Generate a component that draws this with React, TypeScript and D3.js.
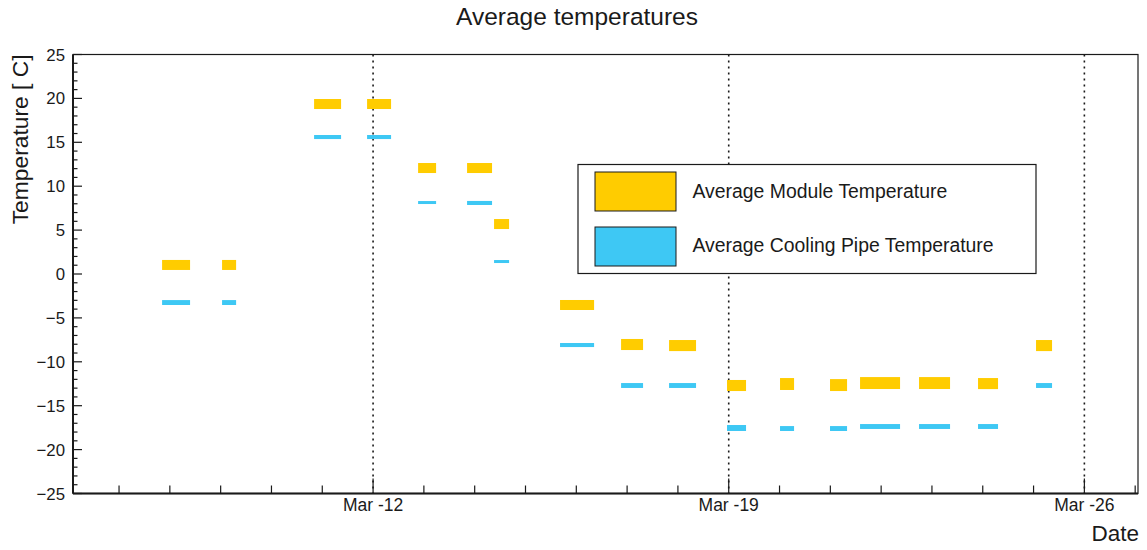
import React from "react";
import * as d3 from "d3";

const periodStart = [
  "2017-03-07T20:20", "2017-03-09T00:40", "2017-03-10T20:08", "2017-03-11T21:10",
  "2017-03-12T21:16", "2017-03-13T20:24", "2017-03-14T09:09", "2017-03-15T16:19",
  "2017-03-16T21:09", "2017-03-17T19:49", "2017-03-18T23:12", "2017-03-20T00:14",
  "2017-03-20T23:51", "2017-03-21T14:02", "2017-03-22T17:54", "2017-03-23T21:46",
  "2017-03-25T01:10",
];
const periodEnd = [
  "2017-03-08T09:33", "2017-03-09T07:18", "2017-03-11T08:53", "2017-03-12T08:30",
  "2017-03-13T05:46", "2017-03-14T08:12", "2017-03-14T16:15", "2017-03-16T08:24",
  "2017-03-17T07:32", "2017-03-18T08:34", "2017-03-19T08:11", "2017-03-20T06:52",
  "2017-03-21T07:54", "2017-03-22T08:56", "2017-03-23T08:33", "2017-03-24T07:13",
  "2017-03-25T08:44",
];
const moduleTemp = [1.03, 1.03, 19.36, 19.36, 12.07, 12.07, 5.69, -3.53, -8.03, -8.15, -12.7, -12.53, -12.65, -12.42, -12.42, -12.48, -8.15];
const moduleErr = [0.57, 0.57, 0.57, 0.57, 0.57, 0.57, 0.57, 0.57, 0.63, 0.63, 0.63, 0.68, 0.68, 0.68, 0.68, 0.63, 0.63];
const pipeTemp = [-3.25, -3.25, 15.6, 15.6, 8.14, 8.09, 1.42, -8.09, -12.7, -12.7, -17.54, -17.6, -17.6, -17.37, -17.37, -17.37, -12.7];
const pipeErr = [0.28, 0.28, 0.23, 0.23, 0.17, 0.23, 0.17, 0.23, 0.28, 0.28, 0.34, 0.28, 0.28, 0.28, 0.28, 0.28, 0.28];

const xDomain = ["2017-03-06T02:15", "2017-03-27T01:20"];
const majorDates = ["2017-03-12T00:00", "2017-03-19T00:00", "2017-03-26T00:00"];
const yTicks = [-25, -20, -15, -10, -5, 0, 5, 10, 15, 20, 25];
const legendLabels = ["Average Module Temperature", "Average Cooling Pipe Temperature"];

const MODULE_COLOR = "#ffcc00";
const PIPE_COLOR = "#3ec8f4";
const FONT = "'Liberation Sans', Arial, Helvetica, sans-serif";
const INK = "#1a1a1a";

const parse = (s: string) => new Date(s + ":00Z");

export default function App() {
  const W = 1147, H = 550;
  const left = 73, right = 1138, top = 54.5, bottom = 493.5;
  const x = d3.scaleUtc().domain(xDomain.map(parse)).range([left, right]);
  const y = d3.scaleLinear().domain([-25, 25]).range([bottom, top]);
  const fmt = d3.utcFormat("%b -%d");
  const yFmt = d3.format("d");

  const dayTicks = x.ticks(d3.utcDay.every(1)!);
  const majors = majorDates.map(parse);
  const isMajor = (d: Date) => majors.some((m) => +m === +d);
  const minorY = d3.range(-25, 25.01, 1);

  const boxes = (vals: number[], errs: number[], color: string, key: string) =>
    vals.map((v, i) => {
      const x0 = x(parse(periodStart[i]));
      const x1 = x(parse(periodEnd[i]));
      const y0 = y(v + errs[i]);
      const y1 = y(v - errs[i]);
      return <rect key={key + i} x={x0} y={y0} width={x1 - x0} height={y1 - y0} fill={color} />;
    });

  return (
    <svg width={W} height={H} style={{ position: "absolute", left: 0, top: 0, background: "#fff" }} fontFamily={FONT}>
      <rect x={0} y={0} width={W} height={H} fill="#fff" />
      <text x={577} y={25} textAnchor="middle" fontSize={24.5} fill={INK}>Average temperatures</text>

      {/* grid lines */}
      {majors.map((m, i) => (
        <line key={"g" + i} x1={x(m)} x2={x(m)} y1={top} y2={bottom} stroke={INK} strokeWidth={1.6} strokeDasharray="2,4" />
      ))}

      {boxes(moduleTemp, moduleErr, MODULE_COLOR, "m")}
      {boxes(pipeTemp, pipeErr, PIPE_COLOR, "p")}

      {/* frame */}
      <rect x={left} y={top} width={right - left} height={bottom - top} fill="none" stroke={INK} strokeWidth={1.2} />
      <line x1={left} x2={right} y1={bottom} y2={bottom} stroke={INK} strokeWidth={2} />
      <line x1={left} x2={left} y1={top} y2={bottom} stroke={INK} strokeWidth={2} />

      {/* x ticks */}
      {dayTicks.map((d, i) => (
        <line key={"xt" + i} x1={x(d)} x2={x(d)} y1={bottom} y2={bottom - (isMajor(d) ? 15 : 8)} stroke={INK} strokeWidth={1.2} />
      ))}
      {majors.map((m, i) => (
        <text key={"xl" + i} x={x(m)} y={511} textAnchor="middle" fontSize={17.5} fill={INK}>{fmt(m)}</text>
      ))}
      <text x={1139} y={541} textAnchor="end" fontSize={22.5} fill={INK}>Date</text>

      {/* y ticks */}
      {minorY.map((v, i) => (
        <line key={"ym" + i} x1={left} x2={left + (v % 5 === 0 ? 9 : 4.5)} y1={y(v)} y2={y(v)} stroke={INK} strokeWidth={1.2} />
      ))}
      {yTicks.map((v, i) => (
        <text key={"yl" + i} x={65} y={y(v) + 6} textAnchor="end" fontSize={16.8} fill={INK}>{yFmt(v)}</text>
      ))}
      <text transform={`translate(28,${top}) rotate(-90)`} textAnchor="end" fontSize={22.8} fill={INK}>Temperature [ C]</text>

      {/* legend */}
      <rect x={578} y={164.5} width={458} height={109} fill="#fff" stroke={INK} strokeWidth={1.2} />
      {[MODULE_COLOR, PIPE_COLOR].map((c, i) => (
        <g key={"lg" + i}>
          <rect x={595} y={172 + i * 55} width={81} height={39} fill={c} stroke={INK} strokeWidth={1} />
          <text x={692.5} y={197.5 + i * 54.5} fontSize={19.4} fill={INK}>{legendLabels[i]}</text>
        </g>
      ))}
    </svg>
  );
}
